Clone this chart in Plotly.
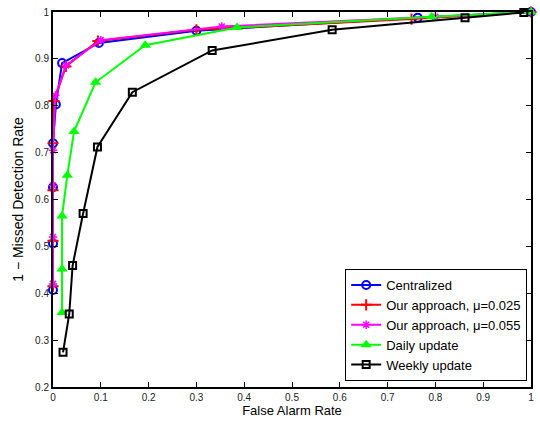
import plotly.graph_objects as go

# Data
cent_x = [0, 0, 0, 0, 0.006, 0.019, 0.096, 0.30, 0.763, 1.0]
cent_y = [0.407, 0.506, 0.626, 0.72, 0.8025, 0.891, 0.934, 0.96, 0.988, 1.0]

red_x = [0, 0, 0, 0, 0.002, 0.027, 0.094, 0.30, 0.75, 1.0]
red_y = [0.415, 0.512, 0.62, 0.72, 0.81, 0.884, 0.938, 0.962, 0.985, 1.0]

mag_x = [0, 0, 0, 0, 0.005, 0.027, 0.10, 0.353, 0.80, 1.0]
mag_y = [0.42, 0.52, 0.63, 0.705, 0.822, 0.886, 0.94, 0.969, 0.99, 1.0]

daily_x = [0.019, 0.019, 0.019, 0.030, 0.044, 0.089, 0.193, 0.385, 0.792, 1.0]
daily_y = [0.359, 0.452, 0.565, 0.652, 0.745, 0.850, 0.929, 0.967, 0.99, 1.0]

weekly_x = [0.021, 0.034, 0.041, 0.063, 0.093, 0.166, 0.333, 0.584, 0.862, 0.985]
weekly_y = [0.274, 0.356, 0.459, 0.570, 0.712, 0.829, 0.918, 0.962, 0.988, 0.999]

x_ticks = [0, 0.1, 0.2, 0.3, 0.4, 0.5, 0.6, 0.7, 0.8, 0.9, 1.0]
x_tick_labels = ["0", "0.1", "0.2", "0.3", "0.4", "0.5", "0.6", "0.7", "0.8", "0.9", "1"]
y_ticks = [0.2, 0.3, 0.4, 0.5, 0.6, 0.7, 0.8, 0.9, 1.0]
y_tick_labels = ["0.2", "0.3", "0.4", "0.5", "0.6", "0.7", "0.8", "0.9", "1"]

fig = go.Figure()

fig.add_trace(go.Scatter(x=cent_x, y=cent_y, mode="lines+markers", name="Centralized", cliponaxis=False,
                         line=dict(color="#0000ff", width=2),
                         marker=dict(symbol="circle-open", size=8, color="#0000ff", line=dict(width=2))))
fig.add_trace(go.Scatter(x=red_x, y=red_y, mode="lines+markers", name="Our approach, μ=0.025", cliponaxis=False,
                         line=dict(color="#ff0000", width=2),
                         marker=dict(symbol="cross-thin-open", size=8, color="#ff0000", line=dict(width=2, color="#ff0000"))))
fig.add_trace(go.Scatter(x=mag_x, y=mag_y, mode="lines+markers", name="Our approach, μ=0.055", cliponaxis=False,
                         line=dict(color="#ff00ff", width=2),
                         marker=dict(symbol="asterisk-open", size=7, color="#ff00ff", line=dict(width=1.5, color="#ff00ff"))))
fig.add_trace(go.Scatter(x=daily_x, y=daily_y, mode="lines+markers", name="Daily update", cliponaxis=False,
                         line=dict(color="#00ff00", width=2),
                         marker=dict(symbol="triangle-up", size=10, color="#00ff00")))
fig.add_trace(go.Scatter(x=weekly_x, y=weekly_y, mode="lines+markers", name="Weekly update", cliponaxis=False,
                         line=dict(color="#000000", width=2),
                         marker=dict(symbol="square-open", size=7, color="#000000", line=dict(width=2))))

axis_common = dict(showgrid=False, zeroline=False, showline=True, linecolor="black", linewidth=2,
                   mirror="ticks", ticks="inside", ticklen=5, tickcolor="black",
                   tickfont=dict(family="Liberation Sans, Arial", size=10, color="#222"))

fig.update_xaxes(range=[0, 1], tickvals=x_ticks, ticktext=x_tick_labels,
                 title=dict(text="False Alarm Rate", font=dict(family="Liberation Sans, Arial", size=13, color="black"), standoff=4),
                 **axis_common)
fig.update_yaxes(range=[0.2, 1], tickvals=y_ticks, ticktext=y_tick_labels,
                 title=dict(text="1 − Missed Detection Rate", font=dict(family="Liberation Sans, Arial", size=14, color="black"), standoff=8),
                 **axis_common)

fig.update_layout(
    width=540, height=424,
    margin=dict(l=53, r=6, t=6, b=37),
    plot_bgcolor="white", paper_bgcolor="white",
    font=dict(family="Liberation Sans, Arial", size=12, color="black"),
    legend=dict(x=0.992, y=0.016, xanchor="right", yanchor="bottom",
                bordercolor="black", borderwidth=1, bgcolor="white",
                font=dict(family="Liberation Sans, Arial", size=13, color="black"),
                tracegroupgap=0, itemwidth=30),
)

fig.write_html("out.html")
